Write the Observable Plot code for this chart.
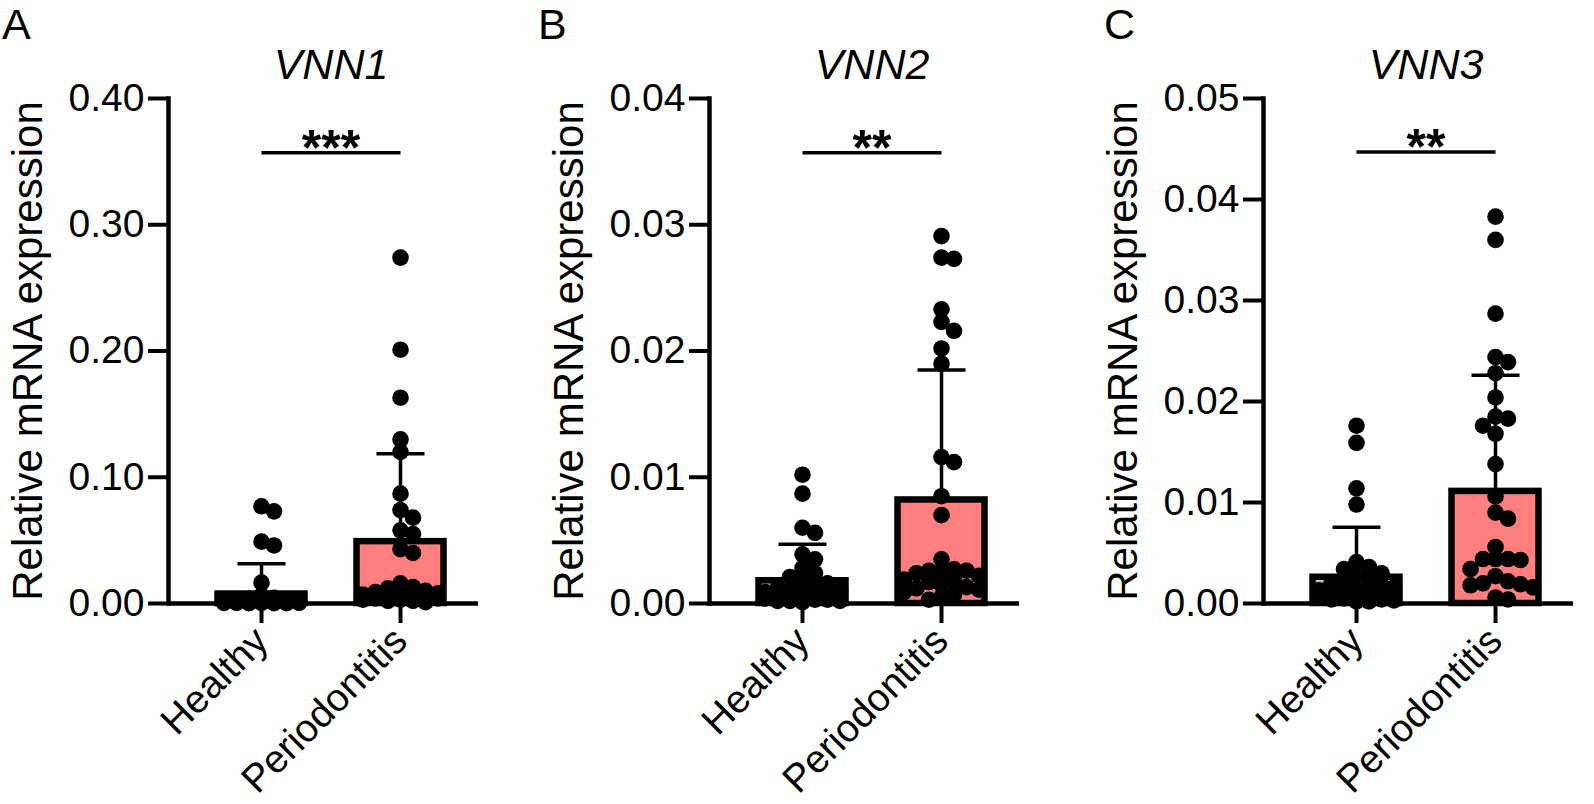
<!DOCTYPE html>
<html>
<head>
<meta charset="utf-8">
<script src="https://cdn.jsdelivr.net/npm/d3@7"></script>
<script src="https://cdn.jsdelivr.net/npm/@observablehq/plot@0.6"></script>
<style>
  html, body { margin: 0; padding: 0; background: #fff; }
  #fig { position: relative; width: 1594px; height: 804px; overflow: hidden; font-family: "Liberation Sans", Arial, sans-serif; color: #000; }
  .panel { position: absolute; top: 0; }
  .letter { position: absolute; top: 0; font-size: 43px; line-height: normal; font-family: "Liberation Sans", Arial, sans-serif; }
</style>
</head>
<body>
<div id="fig"></div>
<script>
// ---------------- data ----------------
const groups = ["Healthy", "Periodontitis"];
const barColors = ["#c0c0c0", "#ff7f7f"];
const yLabel = "Relative mRNA expression";

const genes = ["VNN1", "VNN2", "VNN3"];
const letters = ["A", "B", "C"];
const yMax = [0.40, 0.04, 0.05];
const yTickStep = [0.10, 0.01, 0.01];
const stars = ["***", "**", "**"];
const sigLevel = [0.357, 0.0357, 0.0447];

// bar heights (mean) and error-bar tops (mean + SD): [Healthy, Periodontitis]
const meanVNN1 = [0.0075, 0.049];
const errVNN1  = [0.0314, 0.1186];
const meanVNN2 = [0.0018, 0.0082];
const errVNN2  = [0.0047, 0.0185];
const meanVNN3 = [0.0026, 0.0111];
const errVNN3  = [0.00755, 0.0226];

// individual samples
const healthyVNN1 = [0.077, 0.073, 0.049, 0.046, 0.0165, 0.0062, 0.0045, 0.0038, 0.0031, 0.0027,
  0.0024, 0.0021, 0.0019, 0.0017, 0.0015, 0.0013, 0.0012, 0.0011, 0.0010, 0.0009,
  0.0008, 0.0007, 0.0006, 0.0005, 0.0005, 0.0004, 0.0004, 0.0003, 0.0003, 0.0002];
const perioVNN1 = [0.274, 0.201, 0.163, 0.130, 0.120, 0.087, 0.074, 0.068, 0.058, 0.055,
  0.043, 0.040, 0.016, 0.013, 0.012, 0.010, 0.009, 0.008, 0.007, 0.006,
  0.006, 0.005, 0.005, 0.004, 0.004, 0.003, 0.003, 0.002, 0.002, 0.001];
const healthyVNN2 = [0.0102, 0.0087, 0.0060, 0.0056, 0.0039, 0.0035, 0.0028, 0.0024, 0.0021, 0.0018,
  0.0016, 0.0014, 0.0012, 0.0011, 0.0010, 0.0009, 0.0008, 0.0007, 0.0006, 0.0006,
  0.0005, 0.0005, 0.0004, 0.0004, 0.0003, 0.0003, 0.0002, 0.0002, 0.0002, 0.0001];
const perioVNN2 = [0.0291, 0.0274, 0.0273, 0.0233, 0.0223, 0.0216, 0.0202, 0.0190, 0.0116, 0.0112,
  0.0085, 0.0070, 0.0035, 0.0027, 0.0026, 0.0026, 0.0025, 0.0024, 0.0022, 0.0019,
  0.0018, 0.0017, 0.0015, 0.0013, 0.0012, 0.0011, 0.0009, 0.0007, 0.0005, 0.0003];
const healthyVNN3 = [0.0176, 0.0159, 0.0114, 0.0098, 0.0041, 0.0036, 0.0034, 0.0030, 0.0027, 0.0024,
  0.0022, 0.0020, 0.0018, 0.0016, 0.0014, 0.0013, 0.0012, 0.0011, 0.0010, 0.0009,
  0.0008, 0.0007, 0.0006, 0.0006, 0.0005, 0.0004, 0.0004, 0.0003, 0.0002, 0.0002];
const perioVNN3 = [0.0383, 0.0360, 0.0287, 0.0244, 0.0239, 0.0228, 0.0204, 0.0185, 0.0183, 0.0176,
  0.0168, 0.0138, 0.0106, 0.0090, 0.0084, 0.0056, 0.0044, 0.0044, 0.0044, 0.0043,
  0.0034, 0.0027, 0.0022, 0.0020, 0.0019, 0.0018, 0.0016, 0.0006, 0.0004];

const panels = [
  {gene: genes[0], letter: letters[0], ymax: yMax[0], step: yTickStep[0], star: stars[0], sig: sigLevel[0], mean: meanVNN1, err: errVNN1, samples: [healthyVNN1, perioVNN1]},
  {gene: genes[1], letter: letters[1], ymax: yMax[1], step: yTickStep[1], star: stars[1], sig: sigLevel[1], mean: meanVNN2, err: errVNN2, samples: [healthyVNN2, perioVNN2]},
  {gene: genes[2], letter: letters[2], ymax: yMax[2], step: yTickStep[2], star: stars[2], sig: sigLevel[2], mean: meanVNN3, err: errVNN3, samples: [healthyVNN3, perioVNN3]}
];

// ---------------- layout (styling) ----------------
const panelLeft = [0, 541, 1095];
const letterLeft = [2, 538, 1104];
const W = 498, H = 804;
const mL = 168, mR = 20, mT = 98, mB = 201;
const plotH = H - mT - mB;          // 505
const xDomain = [-0.669, 1.561];     // group index units
const pxPerX = (W - mL - mR) / (xDomain[1] - xDomain[0]);
const barHalf = 43.5 / pxPerX;
const capHalf = 24 / pxPerX;
const R = 8.3;

// horizontal scatter (GraphPad-like column spread) computed in pixel space
function spread(values, ymax) {
  const pxY = plotH / ymax;
  const stepPx = 12.5, minDist = 12, maxCol = 3;
  const order = values.map((v, k) => k).sort((a, b) => values[b] - values[a]);
  const placed = [];
  const off = new Array(values.length);
  for (const k of order) {
    const y = values[k] * pxY;
    let best = 0, bestScore = -Infinity;
    for (let c = 0; c <= maxCol * 2; c++) {
      const col = c === 0 ? 0 : (c % 2 ? (c + 1) / 2 : -c / 2);
      const x = col * stepPx;
      let md = Infinity;
      for (const p of placed) md = Math.min(md, Math.hypot(p.x - x, p.y - y));
      if (md >= minDist) { best = x; bestScore = Infinity; break; }
      if (md > bestScore) { bestScore = md; best = x; }
    }
    placed.push({x: best, y});
    off[k] = best / pxPerX;
  }
  return off;
}

const fig = document.getElementById("fig");
const fontFamily = "'Liberation Sans', Arial, sans-serif";

panels.forEach((p, pi) => {
  const bars = groups.map((g, i) => ({i, group: g, mean: p.mean[i], err: p.err[i]}));
  const points = [];
  p.samples.forEach((vals, i) => {
    const off = spread(vals, p.ymax);
    vals.forEach((v, k) => points.push({x: i + off[k], value: v}));
  });
  const ticks = d3.range(0, p.ymax + p.step / 2, p.step);
  const sig = [{from: 0, to: 1, y: p.sig, label: p.star}];

  const chart = Plot.plot({
    width: W, height: H,
    marginLeft: mL, marginRight: mR, marginTop: mT, marginBottom: mB,
    style: {fontFamily, fontSize: "39px", color: "#000", background: "transparent", overflow: "visible"},
    x: {type: "linear", domain: xDomain, axis: null},
    y: {domain: [0, p.ymax], axis: null},
    color: {domain: groups, range: barColors},
    marks: [
      Plot.rectY(bars, {x1: d => d.i - barHalf, x2: d => d.i + barHalf, y: "mean", fill: "group", stroke: "#000", strokeWidth: 6.5}),
      Plot.ruleX(bars, {x: "i", y1: "mean", y2: "err", stroke: "#000", strokeWidth: 3.5}),
      Plot.link(bars, {x1: d => d.i - capHalf, x2: d => d.i + capHalf, y1: "err", y2: "err", stroke: "#000", strokeWidth: 3.5}),
      Plot.dot(points, {x: "x", y: "value", r: R, fill: "#000", stroke: "none"}),
      Plot.ruleY([0], {stroke: "#000", strokeWidth: 4.5}),
      Plot.frame({anchor: "left", stroke: "#000", strokeWidth: 4.5, strokeLinecap: "square"}),
      Plot.axisY({ticks, tickFormat: d3.format(".2f"), tickSize: 20, tickPadding: 4, strokeWidth: 4, fontSize: 39, label: null}),
      Plot.axisX({ticks: [0, 1], tickFormat: i => groups[i], tickRotate: -45, tickSize: 20, tickPadding: 11, strokeWidth: 4, fontSize: 39, label: null}),
      Plot.link(sig, {x1: "from", x2: "to", y1: "y", y2: "y", stroke: "#000", strokeWidth: 3.5}),
      Plot.text(sig, {x: d => (d.from + d.to) / 2, y: "y", text: "label", dy: -4, fontSize: 50, fontWeight: "bold", lineAnchor: "middle"}),
      Plot.text([p.gene], {x: () => 0.5, frameAnchor: "top", text: d => d, dy: -50, fontSize: 43, fontStyle: "italic", lineAnchor: "top"}),
      Plot.text([yLabel], {frameAnchor: "left", text: d => d, rotate: -90, dx: -140, fontSize: 42, textAnchor: "middle", lineAnchor: "middle"})
    ]
  });
  const div = document.createElement("div");
  div.className = "panel";
  div.style.left = panelLeft[pi] + "px";
  div.appendChild(chart);
  fig.appendChild(div);

  const lt = document.createElement("div");
  lt.className = "letter";
  lt.style.left = letterLeft[pi] + "px";
  lt.textContent = p.letter;
  fig.appendChild(lt);
});
</script>
</body>
</html>
